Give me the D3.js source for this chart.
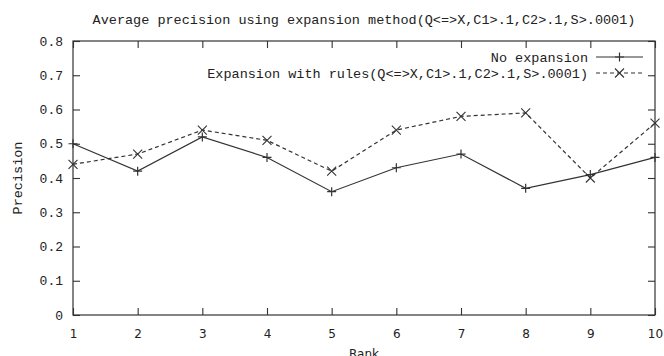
<!DOCTYPE html>
<html>
<head>
<meta charset="utf-8">
<script src="https://cdn.jsdelivr.net/npm/d3@7"></script>
<style>
  html, body { margin: 0; padding: 0; background: #fff; }
  svg { display: block; }
</style>
</head>
<body>
<svg id="chart" width="664" height="356"></svg>
<script>
const ranks = [1, 2, 3, 4, 5, 6, 7, 8, 9, 10];
const noExpansion = [0.50, 0.42, 0.52, 0.46, 0.36, 0.43, 0.47, 0.37, 0.41, 0.46];
const withRules = [0.44, 0.47, 0.54, 0.51, 0.42, 0.54, 0.58, 0.59, 0.40, 0.56];
const yTicks = [0, 0.1, 0.2, 0.3, 0.4, 0.5, 0.6, 0.7, 0.8];
const seriesNames = ["No expansion", "Expansion with rules(Q<=>X,C1>.1,C2>.1,S>.0001)"];
const titleText = "Average precision using expansion method(Q<=>X,C1>.1,C2>.1,S>.0001)";
const xTitle = "Rank";
const yTitle = "Precision";

const svg = d3.select("#chart");
const W = 664, H = 356;
const m = { left: 73, right: 9, top: 41, bottom: 41 };
const x = d3.scaleLinear().domain([1, 10]).range([m.left, W - m.right]);
const y = d3.scaleLinear().domain([0, 0.8]).range([H - m.bottom, m.top]);
const ink = "#333";
const mono = "'Liberation Mono', 'DejaVu Sans Mono', monospace";
const sans = "'DejaVu Sans', sans-serif";
const tl = 7;

// frame
svg.append("rect")
  .attr("x", x(1)).attr("y", y(0.8))
  .attr("width", x(10) - x(1)).attr("height", y(0) - y(0.8))
  .attr("fill", "none").attr("stroke", ink).attr("stroke-width", 1.2);

// axes with inward ticks
const fmtY = d => d === 0 ? "0" : d3.format(".1f")(d);
const gL = svg.append("g").attr("transform", `translate(${x(1)},0)`)
  .call(d3.axisLeft(y).tickValues(yTicks).tickSizeInner(-tl).tickSizeOuter(0).tickPadding(10).tickFormat(fmtY));
const gR = svg.append("g").attr("transform", `translate(${x(10)},0)`)
  .call(d3.axisRight(y).tickValues(yTicks).tickSizeInner(-tl).tickSizeOuter(0).tickFormat(""));
const gB = svg.append("g").attr("transform", `translate(0,${y(0)})`)
  .call(d3.axisBottom(x).tickValues(ranks).tickSizeInner(-tl).tickSizeOuter(0).tickPadding(14).tickFormat(d3.format("d")));
const gT = svg.append("g").attr("transform", `translate(0,${y(0.8)})`)
  .call(d3.axisTop(x).tickValues(ranks).tickSizeInner(-tl).tickSizeOuter(0).tickFormat(""));
[gL, gR, gB, gT].forEach(g => {
  g.select(".domain").remove();
  g.selectAll(".tick line").attr("stroke", ink).attr("stroke-width", 1.1);
});
gL.selectAll(".tick text").attr("font-family", mono).attr("font-size", 13).attr("fill", "#222");
gB.selectAll(".tick text").attr("font-family", sans).attr("font-size", 12).attr("fill", "#222");

// titles
svg.append("text").attr("x", 364).attr("y", 24).attr("text-anchor", "middle")
  .attr("font-family", mono).attr("font-size", 13.5).attr("fill", "#222").text(titleText);
svg.append("text").attr("x", 364).attr("y", 358).attr("text-anchor", "middle")
  .attr("font-family", sans).attr("font-size", 12).attr("fill", "#222").text(xTitle);
svg.append("text").attr("transform", `translate(22,${(y(0) + y(0.8)) / 2}) rotate(-90)`)
  .attr("text-anchor", "middle").attr("font-family", mono).attr("font-size", 13.5)
  .attr("fill", "#222").text(yTitle);

// series
const line = d3.line().x((d, i) => x(ranks[i])).y(d => y(d));
const series = [
  { name: seriesNames[0], vals: noExpansion, dash: null, mark: "plus" },
  { name: seriesNames[1], vals: withRules, dash: "4,3", mark: "cross" }
];
const s = 4.5;
function marker(g, cx, cy, type) {
  if (type === "plus") {
    g.append("path").attr("d", `M${cx - s},${cy}H${cx + s}M${cx},${cy - s}V${cy + s}`)
      .attr("stroke", ink).attr("stroke-width", 1.2).attr("fill", "none");
  } else {
    g.append("path").attr("d", `M${cx - s},${cy - s}L${cx + s},${cy + s}M${cx - s},${cy + s}L${cx + s},${cy - s}`)
      .attr("stroke", ink).attr("stroke-width", 1.1).attr("fill", "none");
  }
}
series.forEach(sr => {
  const g = svg.append("g");
  g.append("path").attr("d", line(sr.vals)).attr("fill", "none")
    .attr("stroke", ink).attr("stroke-width", 1.2)
    .attr("stroke-dasharray", sr.dash);
  sr.vals.forEach((v, i) => marker(g, x(ranks[i]), y(v), sr.mark));
});

// legend
const legX = 588, legY0 = 57, legDy = 16, sampleX0 = 596, sampleX1 = 643;
series.forEach((sr, i) => {
  const ly = legY0 + i * legDy;
  svg.append("text").attr("x", legX).attr("y", ly + 4.5).attr("text-anchor", "end")
    .attr("font-family", mono).attr("font-size", 13.5).attr("fill", "#222").text(sr.name);
  const g = svg.append("g");
  g.append("path").attr("d", `M${sampleX0},${ly}H${sampleX1}`).attr("stroke", ink)
    .attr("stroke-width", 1.2).attr("stroke-dasharray", sr.dash);
  marker(g, (sampleX0 + sampleX1) / 2, ly, sr.mark);
});
</script>
</body>
</html>
